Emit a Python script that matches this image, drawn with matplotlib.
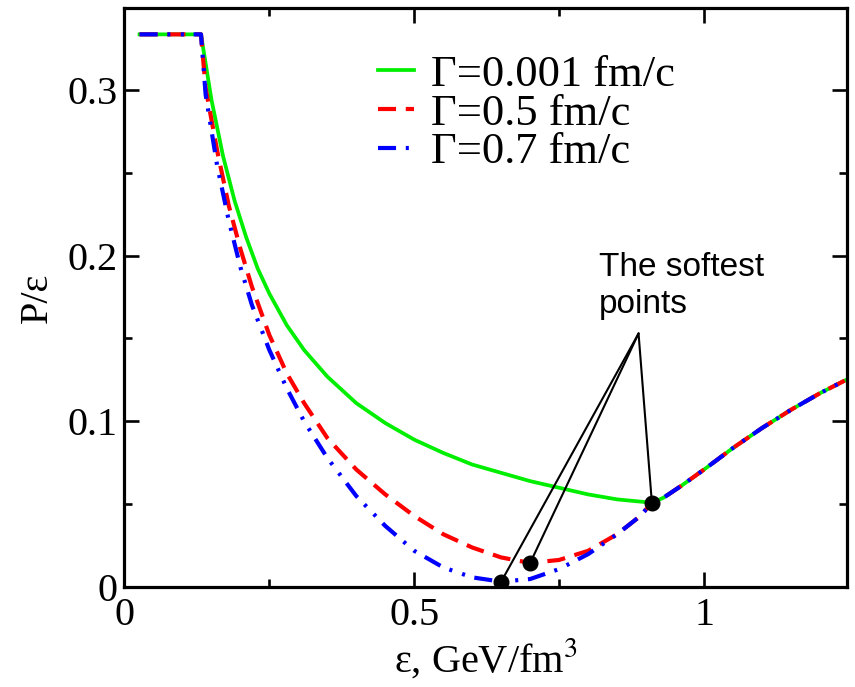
import matplotlib
matplotlib.use("Agg")
import matplotlib.pyplot as plt
from matplotlib.ticker import FixedLocator, FixedFormatter, MultipleLocator

plt.rcParams['font.family'] = ['Liberation Serif', 'DejaVu Serif']
plt.rcParams['mathtext.fontset'] = 'stix'
plt.rcParams['lines.scale_dashes'] = False

# ---- data ----
eps_flat = [0.026, 0.132]
pe_flat = [0.3333, 0.3333]

eps_green = [0.132, 0.15, 0.17, 0.19, 0.21, 0.23, 0.25, 0.28, 0.31, 0.35, 0.40,
             0.45, 0.50, 0.55, 0.60, 0.65, 0.70, 0.75, 0.80, 0.85, 0.91]
pe_green = [0.3333, 0.294, 0.260, 0.233, 0.211, 0.192, 0.177, 0.158, 0.143, 0.127, 0.111,
            0.099, 0.089, 0.081, 0.074, 0.069, 0.064, 0.060, 0.056, 0.053, 0.051]

eps_red = [0.132, 0.14, 0.16, 0.18, 0.20, 0.22, 0.25, 0.28, 0.31, 0.35, 0.40,
           0.45, 0.50, 0.55, 0.60, 0.65, 0.70, 0.75, 0.80, 0.85, 0.89, 0.91]
pe_red = [0.3333, 0.301, 0.263, 0.230, 0.204, 0.181, 0.152, 0.129, 0.111, 0.090, 0.071,
          0.056, 0.043, 0.032, 0.024, 0.018, 0.0147, 0.0165, 0.022, 0.032, 0.043, 0.051]

eps_blue = [0.132, 0.14, 0.16, 0.18, 0.20, 0.22, 0.25, 0.28, 0.31, 0.35, 0.40,
            0.45, 0.50, 0.55, 0.60, 0.65, 0.70, 0.75, 0.80, 0.85, 0.89, 0.91]
pe_blue = [0.3333, 0.297, 0.254, 0.221, 0.193, 0.170, 0.143, 0.120, 0.100, 0.078, 0.055,
           0.037, 0.022, 0.012, 0.006, 0.0034, 0.005, 0.011, 0.020, 0.032, 0.043, 0.051]

eps_common = [0.91, 0.93, 0.96, 1.00, 1.05, 1.10, 1.15, 1.20, 1.245]
pe_common = [0.051, 0.054, 0.061, 0.071, 0.084, 0.096, 0.107, 0.117, 0.125]

soft_eps = [0.65, 0.70, 0.91]
soft_pe = [0.0034, 0.0147, 0.051]
apex = (0.887, 0.153)

labels = ['\u0393=0.001 fm/c', '\u0393=0.5 fm/c', '\u0393=0.7 fm/c']
xtick_vals = [0, 0.5, 1]
xtick_labels = ['0', '0.5', '1']
ytick_vals = [0, 0.1, 0.2, 0.3]
ytick_labels = ['0', '0.1', '0.2', '0.3']

fig = plt.figure(figsize=(8.55, 6.87), dpi=100)
ax = fig.add_axes([0.1456, 0.1451, 0.9906 - 0.1456, 0.9879 - 0.1451])


def full(e, p):
    return eps_flat[:1] + e + eps_common[1:], pe_flat[:1] + p + pe_common[1:]


xg, yg = full(eps_green, pe_green)
xr, yr = full(eps_red, pe_red)
xb, yb = full(eps_blue, pe_blue)

lg, = ax.plot(xg, yg, color='#00ee00', lw=2.7, label=labels[0], zorder=2)
lr, = ax.plot(xr, yr, color='#ff0000', lw=3.0, label=labels[1], zorder=3,
              dashes=(13, 7), dash_capstyle='butt')
lb, = ax.plot(xb, yb, color='#0000ff', lw=3.0, label=labels[2], zorder=4,
              dashes=(13, 7, 2.2, 7.5, 2.2, 7), dash_capstyle='butt')

for e, p in zip(soft_eps, soft_pe):
    ax.annotate('', xy=(e, p), xytext=apex,
                arrowprops=dict(arrowstyle='-', color='black', lw=1.5,
                                shrinkA=0, shrinkB=0), zorder=5)
ax.plot(soft_eps, soft_pe, 'o', color='black', ms=10.5, zorder=6)

ax.text(0.818, 0.202, 'The softest\npoints', family='Liberation Sans', fontsize=24,
        ha='left', va='top', linespacing=1.25)

ax.set_xlim(0, 1.2466)
ax.set_ylim(0, 0.349)

ax.xaxis.set_major_locator(FixedLocator(xtick_vals))
ax.xaxis.set_major_formatter(FixedFormatter(xtick_labels))
ax.yaxis.set_major_locator(FixedLocator(ytick_vals))
ax.yaxis.set_major_formatter(FixedFormatter(ytick_labels))
ax.xaxis.set_minor_locator(MultipleLocator(0.25))
ax.yaxis.set_minor_locator(MultipleLocator(0.05))

ax.tick_params(which='both', direction='in', top=True, right=True, width=1.9,
               labelsize=29, colors='black')
ax.tick_params(which='major', length=11)
ax.tick_params(which='minor', length=5.5)
ax.tick_params(axis='y', which='major', pad=5)
ax.tick_params(axis='x', which='major', pad=7)
for s in ax.spines.values():
    s.set_linewidth(2.3)

ax.set_xlabel('\u03b5, GeV/fm$^{3}$', fontsize=29, labelpad=2)
ax.set_ylabel('P/\u03b5', fontsize=29, labelpad=8)

leg = ax.legend(handles=[lg, lr, lb], loc='upper left', bbox_to_anchor=(0.351, 0.92),
                frameon=False, fontsize=32, handlelength=0.8, handletextpad=0.4,
                labelspacing=-0.03, borderpad=0, borderaxespad=0)

fig.savefig('out.png', dpi=100)
